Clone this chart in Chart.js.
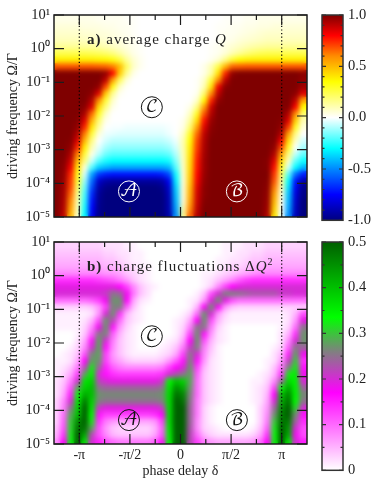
<!DOCTYPE html>
<html><head><meta charset="utf-8">
<script src="https://cdn.jsdelivr.net/npm/chart.js@4/dist/chart.umd.min.js"></script>
<style>
html,body{margin:0;padding:0;background:#fff;width:374px;height:484px;overflow:hidden}
canvas{position:absolute;display:block}
</style></head><body>
<canvas id="heatA" style="left:0;top:0"></canvas>
<canvas id="barA" style="left:312px;top:0"></canvas>
<canvas id="heatB" style="left:0;top:226px"></canvas>
<canvas id="barB" style="left:312px;top:226px"></canvas>
<script>
const deltaTicks=[-1,-0.5,0,0.5,1];
const deltaTickLabels=['-π','-π/2','0','π/2','π'];
const deltaMinorTicks=[-1,-0.75,-0.5,-0.25,0,0.25,0.5,0.75,1];
const freqExponents=[1,0,-1,-2,-3,-4,-5];
const freqTickLabels=['10¹','10⁰','10⁻¹','10⁻²','10⁻³','10⁻⁴','10⁻⁵'];
const chargeBarTicks=[1,0.5,0,-0.5,-1];
const chargeBarLabels=['1.0','0.5','0.0','-0.5','-1.0'];
const chargeBarMinor=[0.9,0.8,0.7,0.6,0.4,0.3,0.2,0.1,-0.1,-0.2,-0.3,-0.4,-0.6,-0.7,-0.8,-0.9];
const fluctBarTicks=[0.5,0.4,0.3,0.2,0.1,0];
const fluctBarLabels=['0.5','0.4','0.3','0.2','0.1','0'];
const fluctBarMinor=[0.45,0.35,0.25,0.15,0.05];
const chargeStopValues=[-1,-0.75,-0.5,-0.3,0,0.35,0.6,0.8,1];
const chargeStopColors=['#00007f','#0000ff','#0088ff','#00ffff','#ffffff','#ffff00','#ff8c00','#ff0000','#7f0000'];
const fluctStopValues=[0,0.17,0.26,0.335,0.5];
const fluctStopColors=['#ffffff','#ff00ff','#808080','#00ff00','#006000'];
// rows run from the top (10^1) to the bottom (10^-5), columns from -5pi/4 to 5pi/4
const chargeValues=[
[.03,.03,.03,.03,.03,.03,.02,.02,.02,.02,.01,.01,0,0,0,0,0,0,0,0,0,0,0,0,.01,.01,.01,.02,.02,.03,.03,.03,.03,.03,.03,.03],
[.05,.05,.05,.05,.04,.04,.04,.03,.03,.02,.02,.01,0,0,0,0,0,0,0,0,0,0,0,.01,.01,.02,.02,.03,.03,.04,.04,.05,.05,.05,.05,.05],
[.07,.07,.07,.07,.06,.06,.05,.05,.04,.03,.02,.01,0,0,0,0,0,0,0,0,0,0,0,.01,.02,.02,.03,.04,.05,.06,.07,.07,.07,.07,.07,.07],
[.09,.09,.09,.09,.08,.08,.07,.06,.05,.04,.03,.02,0,0,0,0,0,0,0,0,0,0,0,.01,.02,.03,.05,.06,.07,.08,.09,.09,.09,.09,.09,.09],
[.14,.14,.14,.14,.13,.13,.12,.1,.08,.06,.04,.02,.01,0,0,0,0,0,0,0,0,0,.01,.02,.04,.06,.08,.1,.12,.13,.14,.14,.14,.14,.14,.14],
[.24,.24,.24,.24,.24,.23,.22,.2,.17,.12,.07,.03,.01,0,0,0,0,0,0,0,0,0,.01,.02,.05,.1,.14,.18,.21,.23,.24,.24,.24,.24,.24,.24],
[.38,.38,.38,.38,.38,.38,.37,.36,.33,.26,.14,.06,.02,0,0,0,0,0,0,0,0,0,.02,.06,.16,.28,.35,.37,.38,.38,.38,.38,.38,.38,.38,.38],
[.68,.68,.68,.68,.68,.68,.67,.66,.62,.5,.22,.07,.02,0,0,0,0,0,0,0,0,.03,.1,.25,.5,.66,.67,.68,.68,.68,.68,.68,.68,.68,.68,.68],
[1,1,1,1,1,1,1,.97,.8,.45,.15,.03,0,0,0,0,0,0,0,0,0,.03,.12,.4,.75,.97,1,1,1,1,1,1,1,1,1,.98],
[1,1,1,1,1,1,1,.9,.55,.22,.05,0,0,0,0,0,0,0,0,0,.01,.07,.27,.6,.9,1,1,1,1,1,1,1,1,1,1,.97],
[1,1,1,1,1,1,.97,.7,.32,.08,.01,0,0,0,0,0,0,0,0,0,.01,.1,.4,.82,.98,1,1,1,1,1,1,1,1,1,1,.95],
[1,1,1,1,1,.98,.85,.45,.15,.02,0,0,0,0,0,0,0,0,0,0,.02,.2,.6,.9,1,1,1,1,1,1,1,1,1,1,.98,.85],
[1,1,1,1,1,.92,.6,.28,.07,0,0,0,0,0,0,0,0,0,0,0,.07,.35,.75,.97,1,1,1,1,1,1,1,1,1,1,.9,.55],
[1,1,1,1,.98,.85,.42,.18,.03,0,0,0,0,0,0,0,0,0,0,.03,.17,.55,.88,1,1,1,1,1,1,1,1,1,1,.99,.8,.35],
[1,1,1,1,.93,.65,.3,.08,0,0,0,0,0,0,0,0,0,0,0,.08,.3,.68,.92,1,1,1,1,1,1,1,1,1,1,.92,.6,.2],
[1,1,1,.99,.85,.52,.2,.03,0,0,0,0,0,0,0,0,0,0,.02,.13,.42,.78,.96,1,1,1,1,1,1,1,1,1,.99,.85,.45,.1],
[1,1,1,.97,.75,.4,.13,0,-.01,-.01,-.02,-.02,-.02,-.02,-.02,-.02,-.01,0,.03,.2,.55,.85,.98,1,1,1,1,1,1,1,1,1,.97,.72,.3,.05],
[1,1,1,.92,.62,.27,.05,-.02,-.03,-.04,-.04,-.04,-.04,-.04,-.04,-.04,-.02,0,.07,.3,.65,.9,.99,1,1,1,1,1,1,1,1,1,.92,.55,.17,0],
[1,1,.99,.85,.5,.17,0,-.05,-.08,-.08,-.08,-.08,-.08,-.08,-.08,-.08,-.06,-.02,.1,.35,.7,.92,1,1,1,1,1,1,1,1,1,.99,.82,.42,.08,-.05],
[1,1,.97,.75,.38,.1,-.03,-.1,-.13,-.13,-.13,-.13,-.13,-.13,-.13,-.13,-.11,-.05,.1,.38,.72,.93,1,1,1,1,1,1,1,1,1,.97,.7,.3,0,-.1],
[1,1,.93,.62,.27,.03,-.08,-.17,-.2,-.2,-.2,-.2,-.2,-.2,-.2,-.2,-.18,-.09,.09,.4,.75,.94,1,1,1,1,1,1,1,1,1,.92,.55,.18,-.07,-.18],
[1,.99,.88,.5,.18,-.06,-.2,-.27,-.3,-.3,-.3,-.3,-.3,-.3,-.3,-.3,-.28,-.14,.08,.42,.77,.95,1,1,1,1,1,1,1,1,.99,.85,.42,.08,-.18,-.28],
[1,.98,.82,.4,.05,-.2,-.38,-.42,-.45,-.45,-.45,-.45,-.45,-.45,-.45,-.45,-.42,-.2,.07,.43,.78,.95,1,1,1,1,1,1,1,1,.99,.78,.3,-.05,-.3,-.42],
[1,.97,.75,.32,-.05,-.45,-.65,-.7,-.72,-.72,-.72,-.72,-.72,-.72,-.72,-.7,-.62,-.28,.06,.45,.8,.96,1,1,1,1,1,1,1,1,1,.72,.22,-.2,-.55,-.7],
[1,.96,.72,.28,-.12,-.55,-.85,-.92,-.94,-.94,-.94,-.94,-.94,-.94,-.94,-.92,-.78,-.32,.05,.47,.82,.97,1,1,1,1,1,1,1,1,.99,.68,.15,-.3,-.72,-.9],
[1,.95,.7,.22,-.18,-.62,-.92,-.98,-1,-1,-1,-1,-1,-1,-1,-.98,-.85,-.37,.05,.5,.85,.98,1,1,1,1,1,1,1,1,.98,.62,.1,-.35,-.78,-.97],
[1,.94,.65,.16,-.22,-.68,-.95,-1,-1,-1,-1,-1,-1,-1,-1,-1,-.88,-.4,.05,.52,.87,.98,1,1,1,1,1,1,1,1,.97,.55,.05,-.4,-.82,-.98],
[1,.93,.6,.12,-.25,-.72,-.96,-1,-1,-1,-1,-1,-1,-1,-1,-1,-.9,-.42,.05,.55,.88,.99,1,1,1,1,1,1,1,1,.96,.5,.02,-.42,-.85,-1],
[1,.92,.55,.1,-.28,-.75,-.97,-1,-1,-1,-1,-1,-1,-1,-1,-1,-.9,-.45,.1,.6,.9,1,1,1,1,1,1,1,1,1,.95,.45,0,-.45,-.87,-1],
[1,.9,.5,.08,-.3,-.78,-.97,-1,-1,-1,-1,-1,-1,-1,-1,-1,-.92,-.48,.15,.65,.92,1,1,1,1,1,1,1,1,1,.93,.4,-.02,-.48,-.88,-1]
];
const fluctValues=[
[.03,.03,.03,.03,.03,.03,.03,.02,.02,.02,.01,.01,0,0,0,0,0,0,0,0,0,0,0,0,.01,.01,.01,.02,.02,.02,.03,.03,.03,.03,.03,.03],
[.04,.04,.04,.04,.04,.04,.04,.03,.03,.02,.02,.01,.01,0,0,0,0,0,0,0,0,0,0,0,.01,.01,.02,.02,.03,.03,.04,.04,.04,.04,.04,.04],
[.05,.05,.05,.05,.05,.05,.05,.04,.04,.03,.02,.01,.01,0,0,0,0,0,0,0,0,0,0,.01,.01,.02,.02,.03,.04,.04,.05,.05,.05,.05,.05,.05],
[.06,.06,.06,.06,.06,.06,.06,.05,.05,.04,.03,.02,.01,.01,0,0,0,0,0,0,0,0,0,.01,.02,.03,.03,.04,.05,.05,.06,.06,.06,.06,.06,.06],
[.08,.08,.08,.08,.08,.08,.08,.07,.07,.06,.04,.03,.02,.01,0,0,0,0,0,0,0,.01,.01,.02,.03,.04,.05,.06,.07,.08,.08,.08,.08,.08,.08,.08],
[.14,.14,.14,.14,.14,.14,.13,.12,.11,.09,.07,.04,.02,.01,0,0,0,0,0,0,0,.01,.02,.04,.06,.08,.11,.13,.14,.14,.14,.14,.14,.14,.14,.14],
[.19,.19,.19,.19,.19,.19,.19,.19,.19,.17,.13,.08,.04,.02,.01,0,0,0,0,0,0,.01,.03,.08,.13,.17,.19,.2,.2,.2,.2,.2,.2,.2,.2,.2],
[.2,.2,.2,.2,.2,.2,.2,.21,.25,.24,.18,.09,.04,.02,0,0,0,0,0,0,.01,.04,.12,.2,.26,.26,.25,.24,.23,.23,.23,.23,.21,.21,.2,.2],
[.1,.1,.1,.1,.1,.11,.13,.18,.27,.27,.17,.06,.02,.01,0,0,0,0,0,.01,.02,.07,.19,.27,.19,.12,.1,.1,.1,.1,.1,.1,.1,.1,.1,.1],
[.03,.03,.03,.03,.03,.04,.07,.13,.26,.26,.11,.04,.01,0,0,0,0,0,0,.01,.05,.17,.27,.17,.07,.04,.03,.03,.03,.03,.03,.03,.03,.03,.03,.03],
[.01,.01,.01,.01,.01,.02,.07,.2,.27,.14,.05,.02,.01,0,0,0,0,0,.01,.03,.1,.27,.2,.07,.03,.01,.01,.01,.01,.01,.01,.01,.01,.02,.05,.12],
[.01,.01,.01,.01,.02,.05,.12,.27,.22,.1,.04,.02,.01,0,0,0,0,.01,.02,.06,.17,.27,.12,.05,.02,.01,.01,.01,.01,.01,.01,.01,.01,.02,.07,.19],
[.01,.01,.01,.01,.03,.08,.18,.27,.16,.07,.03,.01,0,0,0,0,0,.01,.03,.09,.25,.25,.09,.03,.01,0,0,0,0,0,0,0,.01,.03,.1,.25],
[0,0,0,.01,.04,.11,.25,.26,.11,.05,.02,.01,0,0,0,0,0,.01,.04,.13,.27,.16,.07,.02,.01,0,0,0,0,0,0,0,.02,.05,.14,.27],
[0,0,0,.02,.06,.16,.28,.2,.09,.04,.02,.01,0,0,0,0,.01,.02,.06,.17,.27,.12,.05,.02,.01,0,0,0,0,0,0,0,.02,.08,.2,.27],
[0,0,.01,.03,.08,.2,.28,.16,.08,.04,.02,.01,0,0,0,.01,.02,.04,.09,.21,.26,.09,.04,.01,0,0,0,0,0,0,0,.01,.03,.11,.25,.24],
[0,.01,.02,.04,.12,.26,.28,.13,.07,.04,.02,.01,.01,.01,.01,.02,.03,.06,.13,.25,.2,.08,.03,.01,0,0,0,0,0,0,0,.02,.05,.15,.28,.18],
[.01,.01,.02,.06,.17,.28,.27,.13,.08,.06,.04,.03,.03,.03,.03,.04,.07,.11,.16,.26,.16,.07,.02,.01,0,0,0,0,0,0,.01,.02,.07,.21,.3,.14],
[.01,.02,.04,.09,.22,.32,.24,.15,.11,.09,.08,.08,.08,.08,.08,.09,.13,.17,.2,.27,.13,.05,.02,.01,0,0,0,0,0,0,.01,.04,.1,.26,.32,.16],
[.01,.03,.06,.13,.28,.35,.2,.16,.14,.13,.13,.13,.13,.13,.13,.14,.2,.23,.25,.28,.11,.04,.02,.01,0,0,0,0,0,.01,.02,.05,.14,.32,.35,.18],
[.02,.04,.09,.2,.36,.38,.22,.2,.19,.19,.19,.19,.19,.19,.19,.21,.34,.4,.38,.28,.1,.04,.02,.01,0,0,0,0,.01,.01,.03,.08,.24,.37,.35,.2],
[.02,.05,.12,.28,.38,.4,.25,.24,.24,.24,.24,.24,.24,.24,.24,.25,.36,.45,.42,.27,.1,.04,.02,.01,0,0,0,0,.01,.02,.04,.13,.33,.42,.35,.24],
[.02,.06,.15,.33,.42,.4,.27,.265,.265,.265,.265,.265,.265,.265,.265,.27,.37,.48,.46,.26,.1,.04,.02,.01,0,0,0,0,.01,.02,.05,.17,.4,.46,.35,.265],
[.03,.08,.2,.36,.47,.38,.26,.25,.25,.25,.25,.25,.25,.25,.25,.26,.37,.5,.48,.25,.09,.04,.02,.01,0,0,0,0,.01,.02,.06,.2,.42,.48,.34,.25],
[.03,.09,.25,.38,.5,.36,.21,.19,.19,.19,.19,.19,.19,.19,.19,.21,.37,.5,.5,.24,.09,.03,.01,0,0,0,0,0,0,.03,.07,.24,.45,.5,.31,.2],
[.03,.1,.28,.4,.5,.34,.16,.13,.13,.13,.13,.13,.13,.13,.14,.17,.37,.5,.5,.24,.09,.03,.01,0,0,0,0,0,0,.03,.08,.27,.47,.5,.27,.16],
[.03,.11,.3,.45,.5,.32,.14,.09,.07,.06,.06,.06,.06,.06,.07,.13,.37,.5,.5,.24,.08,.03,.01,0,0,0,0,0,0,.03,.09,.3,.48,.47,.24,.14],
[.04,.12,.31,.48,.48,.28,.12,.07,.04,.03,.03,.03,.03,.03,.05,.11,.36,.5,.5,.23,.08,.03,.02,.01,0,0,0,0,.01,.04,.11,.32,.5,.44,.2,.12],
[.05,.14,.32,.5,.42,.22,.12,.08,.05,.04,.04,.04,.04,.04,.06,.12,.35,.5,.5,.22,.1,.05,.03,.02,.02,.02,.02,.02,.03,.06,.14,.33,.5,.42,.18,.12],
[.07,.17,.33,.5,.36,.2,.15,.12,.1,.09,.09,.09,.09,.09,.11,.16,.34,.5,.5,.22,.13,.09,.07,.06,.06,.06,.06,.06,.07,.1,.17,.33,.5,.36,.2,.15]
];
const regionNames=['𝒜','ℬ','𝒞'];
const regionDelta=[-1.6,1.75,-0.89];
const regionLogFreqA=[-4.24,-4.24,-1.74];
const regionLogFreqB=[-4.29,-4.29,-1.8];
const SERIF='"Liberation Serif","Times New Roman",serif';
const INK='#1c1c1c';

function hexRgb(h){return [1,3,5].map(i=>parseInt(h.slice(i,i+2),16));}
function colorOf(v,vals,cols){
  if(v<=vals[0])return cols[0];
  for(let i=1;i<vals.length;i++){
    if(v<=vals[i]){
      const t=(v-vals[i-1])/(vals[i]-vals[i-1]);
      const a=hexRgb(cols[i-1]),b=hexRgb(cols[i]);
      return 'rgb('+a.map((c,k)=>Math.round(c+(b[k]-c)*t)).join(',')+')';
    }
  }
  return cols[cols.length-1];
}
function heatPlugin(cfg){
  return {id:'heatOverlay',afterDatasetsDraw(chart){
    const c=chart.ctx,a=chart.chartArea,X=chart.scales.x,Y=chart.scales.y;
    // soften the cell edges, the reference image is continuous
    c.save();
    c.beginPath();c.rect(a.left,a.top,a.width,a.height);c.clip();
    c.filter='blur(2.6px)';
    c.drawImage(c.canvas,a.left,a.top,a.width,a.height,a.left,a.top,a.width,a.height);
    c.filter='none';
    c.restore();
    c.save();
    // dotted lines at +-pi
    c.strokeStyle='#000';c.lineWidth=1.2;c.setLineDash([1.2,2.4]);
    [-1,1].forEach(k=>{const x=X.getPixelForValue(k*Math.PI);
      c.beginPath();c.moveTo(x,a.top);c.lineTo(x,a.bottom);c.stroke();});
    c.setLineDash([]);
    // ticks
    c.strokeStyle=INK;c.lineWidth=1.2;
    deltaMinorTicks.forEach(v=>{const x=X.getPixelForValue(v*Math.PI);
      const len=(deltaTicks.includes(v))?10:5;
      c.beginPath();c.moveTo(x,a.top);c.lineTo(x,a.top+len);c.moveTo(x,a.bottom);c.lineTo(x,a.bottom-len);c.stroke();});
    freqExponents.forEach(e=>{const y=Y.getPixelForValue(Math.pow(10,e));
      c.beginPath();c.moveTo(a.left,y);c.lineTo(a.left+10,y);c.moveTo(a.right,y);c.lineTo(a.right-10,y);c.stroke();});
    c.lineWidth=1.5;c.strokeRect(a.left,a.top,a.width,a.height);
    // panel caption
    c.fillStyle='#222';c.textBaseline='alphabetic';c.textAlign='left';
    if('letterSpacing' in c)c.letterSpacing=cfg.spacing;
    let px=a.left+33;const py=a.top+cfg.captionY;
    cfg.caption.forEach(s=>{c.font=s.f;c.fillText(s.t,px,py+(s.dy||0));px+=c.measureText(s.t).width;});
    if('letterSpacing' in c)c.letterSpacing='0px';
    // region markers
    regionNames.forEach((n,i)=>{
      const x=X.getPixelForValue(regionDelta[i]),y=Y.getPixelForValue(Math.pow(10,cfg.regionLog[i]));
      const col=cfg.regionColors[i];
      c.strokeStyle=col;c.fillStyle=col;c.lineWidth=1;
      c.beginPath();c.arc(x,y,10.5,0,Math.PI*2);c.stroke();
      c.font='17px "DejaVu Math TeX Gyre","Noto Sans Math","DejaVu Serif",'+SERIF;
      c.textAlign='center';c.textBaseline='middle';c.fillText(n,x,y);
    });
    c.restore();
  }};
}
function heatChart(id,h,values,vals,cols,cfg){
  const canvas=document.getElementById(id);
  canvas.width=312;canvas.height=h;canvas.style.width='312px';canvas.style.height=h+'px';
  const nR=values.length,nC=values[0].length;
  const xMin=-1.25*Math.PI,xStep=2.5*Math.PI/nC;
  const datasets=values.map((row,r)=>{
    const lo=Math.pow(10,1-(r+1)*6/nR),hi=Math.pow(10,1-r*6/nR);
    return {data:row.map((v,i)=>({x:xMin+(i+.5)*xStep,y:[lo,hi]})),
      backgroundColor:row.map(v=>colorOf(v,vals,cols)),
      borderWidth:0,inflateAmount:1,barPercentage:1,categoryPercentage:1,grouped:false};
  });
  return new Chart(canvas,{type:'bar',data:{datasets},plugins:[heatPlugin(cfg)],options:{
    responsive:false,animation:false,events:[],
    layout:{padding:{top:cfg.top,right:5,left:0,bottom:0}},
    plugins:{legend:{display:false},tooltip:{enabled:false}},
    scales:{
      x:{type:'linear',offset:false,min:xMin,max:-xMin,grid:{display:false,drawTicks:false},border:{display:false},
        afterBuildTicks:s=>{s.ticks=deltaTicks.map(v=>({value:v*Math.PI}));},
        afterFit:s=>{s.height=cfg.xHeight;},
        ticks:{display:cfg.showX,autoSkip:false,maxRotation:0,padding:3,color:'#222',font:{family:SERIF,size:14},
          callback:(v,i)=>deltaTickLabels[i]},
        title:{display:cfg.showX,text:'phase delay δ',color:'#222',font:{family:SERIF,size:14},padding:{top:0,bottom:4}}},
      y:{type:'logarithmic',min:1e-5,max:10,grid:{display:false,drawTicks:false},border:{display:false},
        afterBuildTicks:s=>{s.ticks=freqExponents.map(e=>({value:Math.pow(10,e)}));},
        afterFit:s=>{s.width=54;},
        ticks:{autoSkip:false,padding:4,color:'#222',font:{family:SERIF,size:14.5},
          callback:(v,i)=>freqTickLabels[i]},
        title:{display:true,text:'driving frequency Ω/Γ',color:'#222',font:{family:SERIF,size:14},padding:{top:5,bottom:0}}}
    }}});
}
function barChart(id,h,top,min,max,vals,cols,ticks,labels,minor){
  const canvas=document.getElementById(id);
  canvas.width=62;canvas.height=h;canvas.style.width='62px';canvas.style.height=h+'px';
  const frame={id:'barFrame',afterDatasetsDraw(chart){
    const c=chart.ctx,a=chart.chartArea,Y=chart.scales.y;
    c.save();c.strokeStyle='#333';c.lineWidth=1.2;
    ticks.forEach(v=>{const y=Y.getPixelForValue(v);
      c.beginPath();c.moveTo(a.left,y);c.lineTo(a.left+4,y);c.moveTo(a.right,y);c.lineTo(a.right-4,y);c.stroke();});
    minor.forEach(v=>{const y=Y.getPixelForValue(v);
      c.beginPath();c.moveTo(a.left,y);c.lineTo(a.left+2.5,y);c.moveTo(a.right,y);c.lineTo(a.right-2.5,y);c.stroke();});
    c.lineWidth=1.5;c.strokeRect(a.left,a.top,a.width,a.height);c.restore();
  }};
  return new Chart(canvas,{type:'bar',
    data:{labels:['scale'],datasets:[{data:[[min,max]],borderWidth:0,barPercentage:1,categoryPercentage:1,
      backgroundColor:ctx=>{
        const a=ctx.chart.chartArea;if(!a)return '#fff';
        const g=ctx.chart.ctx.createLinearGradient(0,a.bottom,0,a.top);
        vals.forEach((v,i)=>g.addColorStop((v-min)/(max-min),cols[i]));
        return g;}}]},
    plugins:[frame],
    options:{responsive:false,animation:false,events:[],
      layout:{padding:{top,left:10,right:0,bottom:0}},
      plugins:{legend:{display:false},tooltip:{enabled:false}},
      scales:{
        x:{display:false},
        y:{position:'right',min,max,grid:{display:false,drawTicks:false},border:{display:false},
          afterBuildTicks:s=>{s.ticks=ticks.map(v=>({value:v}));},
          afterFit:s=>{s.width=31;},
          ticks:{autoSkip:false,padding:5,color:'#222',font:{family:SERIF,size:14.5},
            callback:(v,i)=>labels[i]}}
      }}});
}
const capBold='bold 15px '+SERIF,capText='15px '+SERIF,capIt='italic 15px '+SERIF;
heatChart('heatA',234,chargeValues,chargeStopValues,chargeStopColors,{
  top:15,xHeight:17,showX:false,captionY:29,spacing:'1px',
  caption:[{t:'a)',f:capBold},{t:' average charge ',f:capText},{t:'Q',f:capIt}],
  regionLog:regionLogFreqA,regionColors:['#fff','#fff','#111']});
heatChart('heatB',258,fluctValues,fluctStopValues,fluctStopColors,{
  top:16,xHeight:40,showX:true,captionY:29,spacing:'1px',
  caption:[{t:'b)',f:capBold},{t:' charge fluctuations Δ',f:capText},{t:'Q',f:capIt},{t:'2',f:'10px '+SERIF,dy:-6}],
  regionLog:regionLogFreqB,regionColors:['#111','#111','#111']});
barChart('barA',234,15,-1,1,chargeStopValues,chargeStopColors,chargeBarTicks,chargeBarLabels,chargeBarMinor);
barChart('barB',258,16,0,0.5,fluctStopValues,fluctStopColors,fluctBarTicks,fluctBarLabels,fluctBarMinor);
</script>
</body></html>
